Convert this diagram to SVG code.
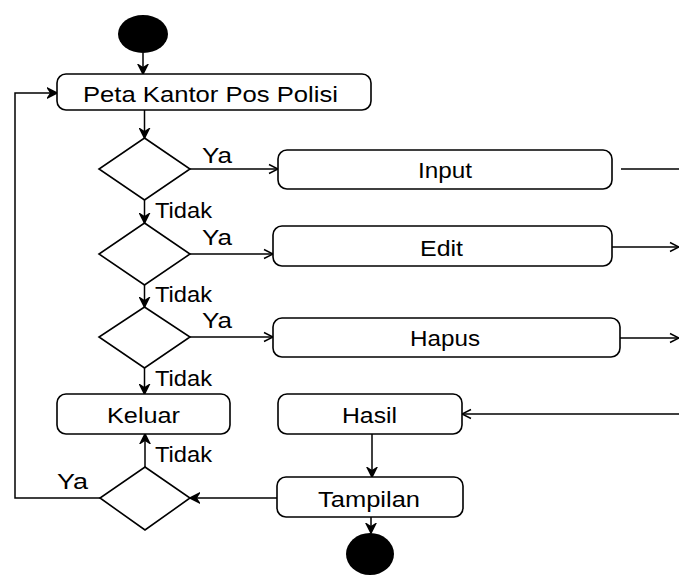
<svg xmlns="http://www.w3.org/2000/svg" width="679" height="576" viewBox="0 0 679 576">
  <style>
    .box { fill: #fff; stroke: #000; stroke-width: 1.6; }
    .dec { fill: #fff; stroke: #000; stroke-width: 1.6; }
    .dot { fill: #000; }
    .lbl { font-family: "Liberation Sans", Arial, sans-serif; font-size: 22px; fill: #000; }
    .mid { text-anchor: middle; }
    .edge { fill: none; stroke: #000; stroke-width: 1.5; }
    .open { marker-end: url(#chev); }
    .bold { marker-end: url(#barb); }
  </style>
  <defs>
    <marker id="chev" markerUnits="userSpaceOnUse" markerWidth="12" markerHeight="12" refX="10" refY="6" orient="auto">
      <path d="M1,1.5 L10,6 L1,10.5" fill="none" stroke="#000" stroke-width="1.4"/>
    </marker>
    <marker id="barb" markerUnits="userSpaceOnUse" markerWidth="12" markerHeight="12" refX="10" refY="6" orient="auto">
      <path d="M1,1.5 L10,6 L1,10.5 L4,6 z" fill="#000" stroke="#000" stroke-width="1.6" stroke-linejoin="miter"/>
    </marker>
  </defs>

  <rect width="679" height="576" fill="#fff"/>

  <g id="connectors">
    <path class="edge bold" d="M143,53 V74"/>
    <path class="edge bold" d="M144.5,110 V138"/>
    <path class="edge open" d="M190,169 H278"/>
    <path class="edge bold" d="M144.5,200 V223"/>
    <path class="edge open" d="M190,254 H273"/>
    <path class="edge bold" d="M144.5,285 V307"/>
    <path class="edge open" d="M190,337 H273"/>
    <path class="edge bold" d="M144.5,368 V394"/>
    <path class="edge" d="M621,169 H679"/>
    <path class="edge open" d="M612,247 H679"/>
    <path class="edge open" d="M620,338 H679"/>
    <path class="edge open" d="M679,414 H462"/>
    <path class="edge bold" d="M372,434 V477"/>
    <path class="edge bold" d="M371,517 V533"/>
    <path class="edge bold" d="M277,498 H190"/>
    <path class="edge bold" d="M145,467 V434"/>
    <path class="edge bold" d="M100,498 H15 V93 H57"/>
    <text class="lbl" x="202" y="163" textLength="30" lengthAdjust="spacingAndGlyphs">Ya</text>
    <text class="lbl" x="155" y="218" textLength="57" lengthAdjust="spacingAndGlyphs">Tidak</text>
    <text class="lbl" x="202" y="245" textLength="30" lengthAdjust="spacingAndGlyphs">Ya</text>
    <text class="lbl" x="155" y="302" textLength="57" lengthAdjust="spacingAndGlyphs">Tidak</text>
    <text class="lbl" x="202" y="328" textLength="30" lengthAdjust="spacingAndGlyphs">Ya</text>
    <text class="lbl" x="155" y="386" textLength="57" lengthAdjust="spacingAndGlyphs">Tidak</text>
    <text class="lbl" x="155" y="462" textLength="57" lengthAdjust="spacingAndGlyphs">Tidak</text>
    <text class="lbl" x="57" y="489" textLength="31" lengthAdjust="spacingAndGlyphs">Ya</text>
  </g>

  <g id="start">
    <ellipse class="dot" cx="143" cy="34" rx="25" ry="19"/>
  </g>

  <g id="peta">
    <rect class="box" x="57" y="74" width="314" height="36" rx="9"/>
    <text class="lbl" x="83" y="102" textLength="255" lengthAdjust="spacingAndGlyphs">Peta Kantor Pos Polisi</text>
  </g>

  <g id="decision-input">
    <polygon class="dec" points="144.5,138 190,169 144.5,200 99,169"/>
  </g>
  <g id="decision-edit">
    <polygon class="dec" points="144.5,223 190,254 144.5,285 99,254"/>
  </g>
  <g id="decision-hapus">
    <polygon class="dec" points="144.5,307 190,337 144.5,368 99,337"/>
  </g>

  <g id="input">
    <rect class="box" x="278" y="150" width="334" height="39" rx="9"/>
    <text class="lbl" x="418" y="178" textLength="54" lengthAdjust="spacingAndGlyphs">Input</text>
  </g>
  <g id="edit">
    <rect class="box" x="273" y="226" width="339" height="40" rx="9"/>
    <text class="lbl" x="420" y="256" textLength="43" lengthAdjust="spacingAndGlyphs">Edit</text>
  </g>
  <g id="hapus">
    <rect class="box" x="273" y="318" width="347" height="39" rx="9"/>
    <text class="lbl" x="410" y="346" textLength="70" lengthAdjust="spacingAndGlyphs">Hapus</text>
  </g>

  <g id="keluar">
    <rect class="box" x="57" y="394" width="173" height="40" rx="9"/>
    <text class="lbl" x="107" y="423" textLength="73" lengthAdjust="spacingAndGlyphs">Keluar</text>
  </g>
  <g id="hasil">
    <rect class="box" x="278" y="394" width="184" height="40" rx="9"/>
    <text class="lbl" x="342" y="423" textLength="55" lengthAdjust="spacingAndGlyphs">Hasil</text>
  </g>
  <g id="tampilan">
    <rect class="box" x="277" y="477" width="186" height="40" rx="9"/>
    <text class="lbl" x="318" y="507" textLength="102" lengthAdjust="spacingAndGlyphs">Tampilan</text>
  </g>

  <g id="decision-exit">
    <polygon class="dec" points="145,467 190,498 145,530 100,498"/>
  </g>

  <g id="end">
    <ellipse class="dot" cx="370" cy="554" rx="24" ry="21"/>
  </g>
</svg>
